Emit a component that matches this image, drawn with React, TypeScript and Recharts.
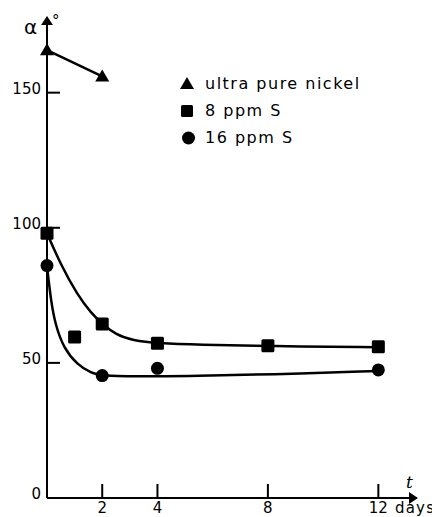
import React from 'react';
import { ComposedChart, Line, Scatter, XAxis, YAxis } from 'recharts';

// measured points (t in days, alpha in degrees)
const pureT = [0, 2];
const pureAlpha = [165.7, 156];
const s8T = [0, 1, 2, 4, 8, 12];
const s8Alpha = [98, 59.6, 64.4, 57.3, 56.3, 56];
const s16T = [0, 2, 4, 12];
const s16Alpha = [86, 45.3, 48, 47.4];

// hand-drawn fit curves
const s8CurveT = [0, 0.5, 1.1, 1.6, 2, 2.5, 3.1, 4, 5.5, 8, 12];
const s8CurveAlpha = [98, 86.3, 75.2, 68.4, 64.4, 60.4, 58.3, 57.3, 56.7, 56.2, 55.8];
const s16CurveT = [0, 0.15, 0.3, 0.6, 1.1, 1.6, 2, 3, 5.5, 8, 12];
const s16CurveAlpha = [85.7, 72.5, 64.3, 55.5, 49.3, 46.2, 45.3, 44.9, 45.2, 45.7, 47];

const xTicks = [2, 4, 8, 12];
const yTicks = [0, 50, 100, 150];

const legendItems = ['ultra pure nickel', '8 ppm S', '16 ppm S'];

const zip = (ts: number[], vs: number[]) => ts.map((t, i) => ({ t, alpha: vs[i] }));

const pureData = zip(pureT, pureAlpha);
const s8Data = zip(s8T, s8Alpha);
const s16Data = zip(s16T, s16Alpha);
const s8Curve = zip(s8CurveT, s8CurveAlpha);
const s16Curve = zip(s16CurveT, s16CurveAlpha);

const FONT = '"DejaVu Sans", sans-serif';

const Triangle = ({ cx, cy }: any) => (
  <path d={`M${cx},${cy - 7} L${cx + 7},${cy + 5} L${cx - 7},${cy + 5} Z`} fill="#000" />
);
const Square = ({ cx, cy }: any) => <rect x={cx - 6.5} y={cy - 6.5} width={13} height={13} rx={1.5} fill="#000" />;
const Dot = ({ cx, cy }: any) => <circle cx={cx} cy={cy} r={6.5} fill="#000" />;

const XTick = ({ x, y, payload }: any) => (
  <g>
    <line x1={x} y1={y} x2={x} y2={y - 14} stroke="#000" strokeWidth={2} />
    <text x={x} y={y + 15} textAnchor="middle" fontSize={15} fontFamily={FONT} fill="#000">
      {payload.value}
    </text>
  </g>
);

const YTick = ({ x, y, payload }: any) => (
  <g>
    <line x1={x} y1={y} x2={x + 13} y2={y} stroke="#000" strokeWidth={2} />
    <text x={x - 6} y={y + 1} textAnchor="end" fontSize={15} fontFamily={FONT} fill="#000">
      {payload.value}
    </text>
  </g>
);

const LegendBox = () => (
  <div style={{ fontSize: 16, letterSpacing: 1.5, color: '#000' }}>
    {legendItems.map((name, i) => (
      <div key={name} style={{ display: 'flex', alignItems: 'center', height: 27 }}>
        <svg width={16} height={16} style={{ marginRight: 10 }}>
          {i === 0 && <path d="M8,1 L15,13 L1,13 Z" fill="#000" />}
          {i === 1 && <rect x={2} y={2} width={12} height={12} rx={1.5} fill="#000" />}
          {i === 2 && <circle cx={9.5} cy={8} r={6.5} fill="#000" />}
        </svg>
        <span>{name}</span>
      </div>
    ))}
  </div>
);

export default function App() {
  return (
    <div style={{ position: 'relative', width: 432, height: 509, fontFamily: FONT }}>
      <ComposedChart width={432} height={509} margin={{ top: 9, right: 23, bottom: 0, left: 0 }}>
        <defs>
          <marker id="arrow" viewBox="0 0 10 10" refX="9" refY="5" markerWidth="9" markerHeight="12"
            markerUnits="userSpaceOnUse" orient="auto-start-reverse" preserveAspectRatio="none">
            <path d="M0,0 L10,5 L0,10 z" fill="#000" />
          </marker>
        </defs>
        <XAxis dataKey="t" type="number" domain={[0, 13.4]} ticks={xTicks} height={19}
          tickSize={0} tickMargin={0} tickLine={false} tick={<XTick />}
          axisLine={{ stroke: '#000', strokeWidth: 2, markerEnd: 'url(#arrow)' } as any} />
        <YAxis type="number" domain={[0, 178]} ticks={yTicks} width={39}
          tickSize={0} tickMargin={0} tickLine={false} tick={<YTick />}
          axisLine={{ stroke: '#000', strokeWidth: 2, markerStart: 'url(#arrow)' } as any} />
        <Line data={s8Curve} dataKey="alpha" type="basis" stroke="#000" strokeWidth={2.5} dot={false}
          isAnimationActive={false} />
        <Line data={s16Curve} dataKey="alpha" type="basis" stroke="#000" strokeWidth={2.5} dot={false}
          isAnimationActive={false} />
        <Line data={pureData} dataKey="alpha" type="linear" stroke="#000" strokeWidth={2.5} dot={false}
          isAnimationActive={false} />
        <Scatter name="ultra pure nickel" data={pureData} dataKey="alpha" shape={<Triangle />} isAnimationActive={false} />
        <Scatter name="8 ppm S" data={s8Data} dataKey="alpha" shape={<Square />} isAnimationActive={false} />
        <Scatter name="16 ppm S" data={s16Data} dataKey="alpha" shape={<Dot />} isAnimationActive={false} />
      </ComposedChart>
      <div style={{ position: 'absolute', left: 171, top: 62, width: 240 }}>
        <LegendBox />
      </div>
      <div style={{ position: 'absolute', left: 16, top: 9, fontSize: 20, lineHeight: '20px' }}>α</div>
      <div style={{ position: 'absolute', left: 44, top: 6, fontSize: 15, lineHeight: '15px' }}>°</div>
      <div style={{ position: 'absolute', left: 398, top: 464, fontSize: 17, fontStyle: 'italic', fontFamily: '"DejaVu Serif", serif' }}>t</div>
      <div style={{ position: 'absolute', left: 387, top: 493, fontSize: 15, lineHeight: '15px', letterSpacing: 1.2 }}>days</div>
    </div>
  );
}
